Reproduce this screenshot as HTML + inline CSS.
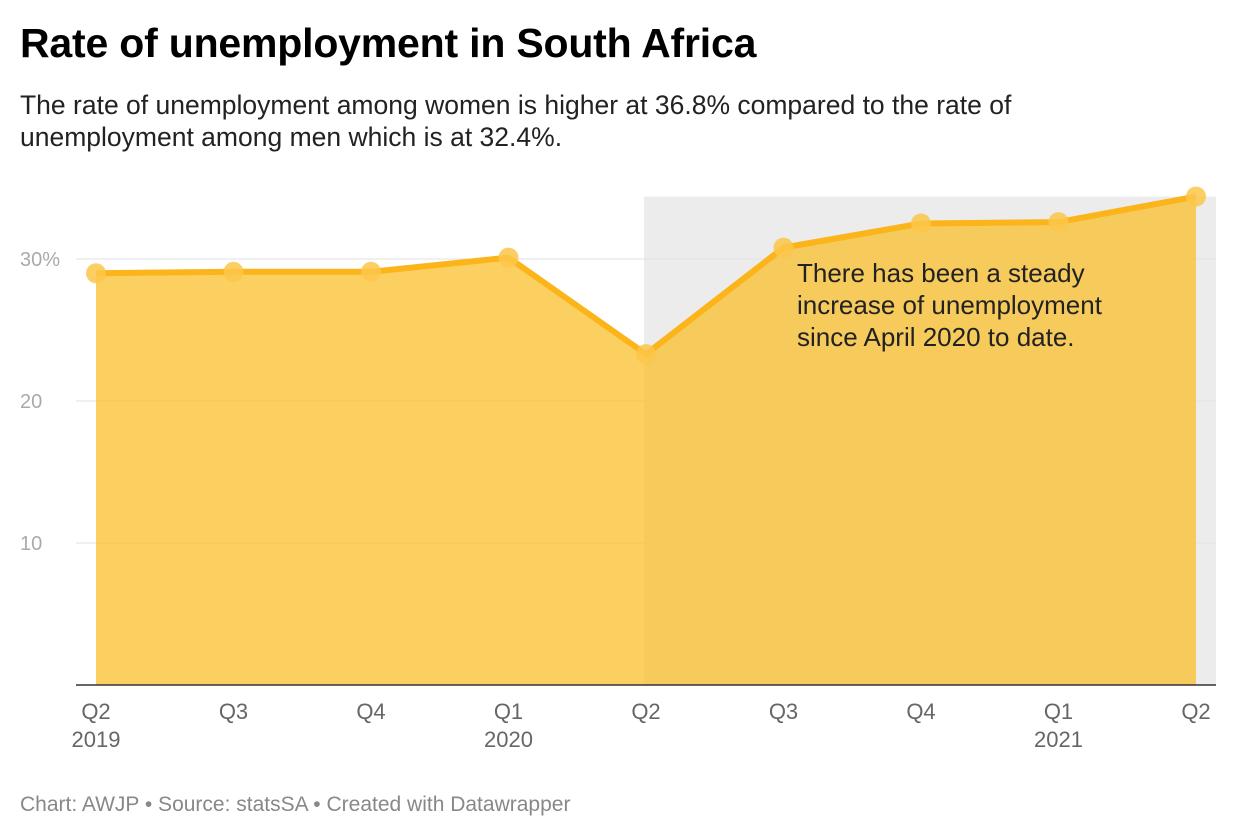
<!DOCTYPE html>
<html><head><meta charset="utf-8">
<style>
body{margin:0;background:#fff;font-family:"Liberation Sans",sans-serif;}
#wrap{position:relative;width:1240px;height:840px;overflow:hidden;}
h1{position:absolute;left:20px;top:20px;margin:0;font-size:41px;font-weight:bold;color:#000;letter-spacing:-0.2px;}
.sub{position:absolute;left:20px;top:89px;font-size:26.5px;line-height:32px;color:#222;width:1080px;}
.foot{position:absolute;left:20px;top:793px;font-size:21px;color:#888;}
</style></head><body>
<div id="wrap">
<h1>Rate of unemployment in South Africa</h1>
<div class="sub">The rate of unemployment among women is higher at 36.8% compared to the rate of unemployment among men which is at 32.4%.</div>
<svg id="chart" width="1240" height="840" style="position:absolute;left:0;top:0"></svg>
<div class="foot">Chart: AWJP • Source: statsSA • Created with Datawrapper</div>
</div>
<script>
const categories=["Q2","Q3","Q4","Q1","Q2","Q3","Q4","Q1","Q2"];
const yearLabels=["2019","","","2020","","","","2021",""];
const values=[29.0,29.1,29.1,30.1,23.3,30.8,32.5,32.6,34.4];
const yTicks=[10,20,30];
const yTickLabels=["10","20","30%"];
const NS="http://www.w3.org/2000/svg";
const svg=document.getElementById('chart');
const x0=96,x1=1196,yBase=685,pxPerUnit=14.2;
function xs(i){return x0+(x1-x0)*i/(categories.length-1);}
function ys(v){return yBase-v*pxPerUnit;}
function mk(tag,attrs){const e=document.createElementNS(NS,tag);for(const k in attrs)e.setAttribute(k,attrs[k]);svg.appendChild(e);return e;}
let band=mk('rect',{x:644,y:ys(values[values.length-1]),width:572,height:yBase-ys(values[values.length-1]),fill:'#ececec'});


yTicks.forEach((t,i)=>{
 const g=mk('line',{x1:76,x2:1216,y1:ys(t),y2:ys(t),stroke:'#e2e2e2','stroke-width':1});
 
 
 const tx=mk('text',{x:20,y:ys(t)+7,'font-size':20,fill:'#aaa','font-family':'Liberation Sans'});
 tx.textContent=yTickLabels[i];
 
 
});
let d='M'+xs(0)+','+yBase;
values.forEach((v,i)=>{d+=' L'+xs(i)+','+ys(v);});
d+=' L'+xs(values.length-1)+','+yBase+' Z';
const area=mk('path',{d:d,fill:'#f9bf2b','fill-opacity':0.75});


const pts=values.map((v,i)=>xs(i)+','+ys(v)).join(' ');
const line=mk('polyline',{points:pts,fill:'none',stroke:'#fbb41a','stroke-width':6,'stroke-linejoin':'round'});


values.forEach((v,i)=>{
 const c=mk('circle',{cx:xs(i),cy:ys(v),r:10,fill:'#fbc74a','fill-opacity':0.85});
 
 
});
const ax=mk('line',{x1:76,x2:1216,y1:yBase,y2:yBase,stroke:'#333','stroke-width':1.5});


categories.forEach((c,i)=>{
 const t=mk('text',{x:xs(i),y:719,'font-size':22,fill:'#666','text-anchor':'middle','font-family':'Liberation Sans'});
 t.textContent=c;
 
 
 if(yearLabels[i]){
  const y=mk('text',{x:xs(i),y:747,'font-size':22,fill:'#666','text-anchor':'middle','font-family':'Liberation Sans'});
  y.textContent=yearLabels[i];
  
  
 }
});
const ann=["There has been a steady","increase of unemployment","since April 2020 to date."];
ann.forEach((s,i)=>{
 const t=mk('text',{x:797,y:282+i*32,'font-size':26,fill:'#222','font-family':'Liberation Sans'});
 t.textContent=s;
 
 
});
</script>
</body></html>
